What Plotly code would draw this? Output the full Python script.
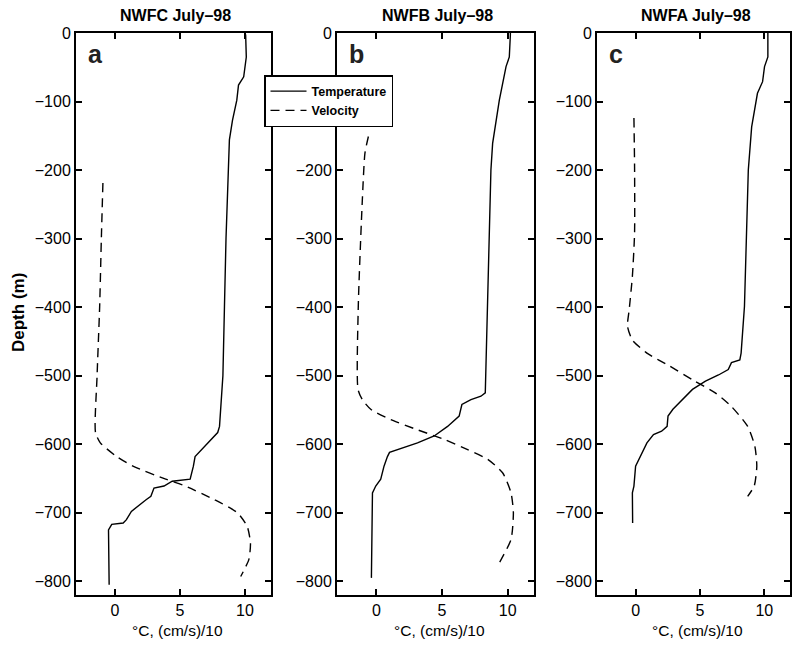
import plotly.graph_objects as go

# ---------------- data ----------------
# Panel a: NWFC July-98
a_temp_depth = [0, -3, -35, -64, -76, -98, -127, -156, -200, -299, -399, -500, -574, -583, -598, -603, -613, -618, -632, -642, -651, -654, -661, -664, -676, -681, -693, -698, -710, -715, -717, -725, -805]
a_temp_val   = [10.0, 10.05, 10.1, 9.9, 9.5, 9.37, 9.04, 8.8, 8.72, 8.54, 8.42, 8.3, 8.04, 7.9, 7.16, 6.9, 6.4, 6.16, 6.03, 5.9, 5.78, 4.4, 3.77, 3.0, 2.76, 2.39, 1.64, 1.26, 0.88, 0.63, -0.25, -0.5, -0.45]
a_vel_depth  = [-219, -300, -399, -501, -583, -598, -618, -632, -651, -661, -681, -700, -720, -744, -768, -793]
a_vel_val    = [-0.93, -1.05, -1.18, -1.38, -1.5, -1.13, 0.13, 1.38, 3.9, 5.4, 7.66, 9.42, 10.17, 10.42, 10.3, 9.67]

# Panel b: NWFB July-98
b_temp_depth = [0, -3, -35, -49, -98, -127, -161, -200, -297, -399, -525, -530, -535, -542, -559, -574, -588, -598, -603, -609, -612, -618, -632, -651, -661, -671, -795]
b_temp_val   = [10.2, 10.2, 10.12, 9.87, 9.36, 9.1, 8.85, 8.72, 8.6, 8.47, 8.29, 7.96, 7.2, 6.51, 6.3, 5.42, 4.4, 3.13, 2.37, 1.6, 1.0, 0.84, 0.58, 0.33, -0.05, -0.3, -0.38]
b_vel_depth  = [-151, -175, -243, -399, -520, -535, -549, -564, -579, -593, -608, -622, -642, -671, -700, -739, -773]
b_vel_val    = [-0.61, -0.87, -1.07, -1.38, -1.4, -1.07, -0.43, 1.09, 3.13, 5.16, 6.95, 8.47, 9.62, 10.25, 10.43, 10.25, 9.36]

# Panel c: NWFA July-98
c_temp_depth = [0, -3, -35, -49, -71, -88, -137, -200, -297, -399, -467, -477, -481, -491, -499, -508, -520, -535, -549, -559, -574, -581, -586, -598, -618, -632, -661, -671, -715]
c_temp_val   = [10.28, 10.28, 10.28, 10.02, 9.87, 9.47, 9.02, 8.76, 8.59, 8.46, 8.2, 8.1, 7.45, 7.2, 6.44, 5.43, 4.42, 3.66, 2.9, 2.52, 2.45, 2.02, 1.39, 0.88, 0.38, 0.0, -0.13, -0.25, -0.23]
c_vel_depth  = [-124, -195, -292, -355, -404, -428, -448, -467, -486, -506, -525, -545, -574, -603, -632, -661, -676]
c_vel_val    = [-0.13, -0.08, -0.08, -0.25, -0.5, -0.63, -0.25, 0.88, 2.65, 4.42, 6.19, 7.45, 8.71, 9.27, 9.42, 9.22, 8.71]

titles = ["NWFC July\u201398", "NWFB July\u201398", "NWFA July\u201398"]
letters = ["a", "b", "c"]
x_ticks = [0, 5, 10]
y_ticks = [0, -100, -200, -300, -400, -500, -600, -700, -800]
y_ticklabels = ["0", "\u2212100", "\u2212200", "\u2212300", "\u2212400", "\u2212500", "\u2212600", "\u2212700", "\u2212800"]
# in panel b the -100 label sits under the legend box (hidden in the original)
y_ticklabels_b = ["0", "", "\u2212200", "\u2212300", "\u2212400", "\u2212500", "\u2212600", "\u2212700", "\u2212800"]
x_title = "\u00b0C, (cm/s)/10"
y_title = "Depth (m)"

panels = [
    (a_temp_val, a_temp_depth, a_vel_val, a_vel_depth),
    (b_temp_val, b_temp_depth, b_vel_val, b_vel_depth),
    (c_temp_val, c_temp_depth, c_vel_val, c_vel_depth),
]

# ---------------- layout ----------------
W, H = 795, 645
FONT = "Liberation Sans"
x_domains = [(76 / W, 271 / W), (337 / W, 534 / W), (597 / W, 790 / W)]
y_domain = (1 - 595 / H, 1 - 33 / H)

fig = go.Figure()
for i, (tv, td, vv, vd) in enumerate(panels):
    sfx = "" if i == 0 else str(i + 1)
    fig.add_trace(go.Scatter(x=tv, y=td, mode="lines", name="Temperature",
                             line=dict(color="black", width=1.4),
                             xaxis="x" + sfx, yaxis="y" + sfx, showlegend=(i == 0)))
    fig.add_trace(go.Scatter(x=vv, y=vd, mode="lines", name="Velocity",
                             line=dict(color="black", width=1.4, dash="9px,6px", shape="spline", smoothing=0.6),
                             xaxis="x" + sfx, yaxis="y" + sfx, showlegend=(i == 0)))

axis_common = dict(showline=True, mirror="ticks", linecolor="black", linewidth=2,
                   ticks="inside", ticklen=6, tickwidth=1.5, tickcolor="black",
                   showgrid=False, zeroline=False, automargin=False,
                   tickfont=dict(family=FONT, size=16, color="black"))

layout = dict(width=W, height=H, margin=dict(l=0, r=0, t=0, b=0, pad=0, autoexpand=False),
              paper_bgcolor="white", plot_bgcolor="white", template="none",
              font=dict(family=FONT, color="black"))
for i in range(3):
    sfx = "" if i == 0 else str(i + 1)
    layout["xaxis" + sfx] = dict(axis_common, domain=list(x_domains[i]), range=[-3, 12],
                                 tickvals=x_ticks, anchor="y" + sfx)
    layout["yaxis" + sfx] = dict(axis_common, domain=list(y_domain), range=[-820, 0],
                                 tickvals=y_ticks,
                                 ticktext=(y_ticklabels_b if i == 1 else y_ticklabels),
                                 anchor="x" + sfx)
fig.update_layout(**layout)

annotations = []
for i in range(3):
    x0, x1 = x_domains[i]
    annotations.append(dict(text=titles[i], x=(x0 + x1) / 2 + 2 / W, y=1 - 15 / H, xref="paper", yref="paper",
                            showarrow=False, font=dict(family=FONT, size=16, color="black", weight="bold"),
                            xanchor="center", yanchor="middle"))
    annotations.append(dict(text=x_title, x=(x0 + x1) / 2 + 4 / W, y=1 - 630 / H, xref="paper", yref="paper",
                            showarrow=False, font=dict(family=FONT, size=15.5, color="black"),
                            xanchor="center", yanchor="middle"))
    annotations.append(dict(text=letters[i], x=x0 + 10 / W, y=1 - 54 / H, xref="paper", yref="paper",
                            showarrow=False, font=dict(family=FONT, size=25, color="#222", weight="bold"),
                            xanchor="left", yanchor="middle"))
annotations.append(dict(text=y_title, x=18 / W, y=1 - 313 / H, xref="paper", yref="paper", textangle=-90,
                        showarrow=False, font=dict(family=FONT, size=17, color="black", weight="bold"),
                        xanchor="center", yanchor="middle"))
fig.update_layout(annotations=annotations)

fig.update_layout(legend=dict(x=264 / W, y=1 - 75 / H, xanchor="left", yanchor="top",
                              bgcolor="white", bordercolor="black", borderwidth=1.5,
                              font=dict(family=FONT, size=12.5, color="black", weight="bold"),
                              itemwidth=36, tracegroupgap=0))

fig.write_html("out.html")
